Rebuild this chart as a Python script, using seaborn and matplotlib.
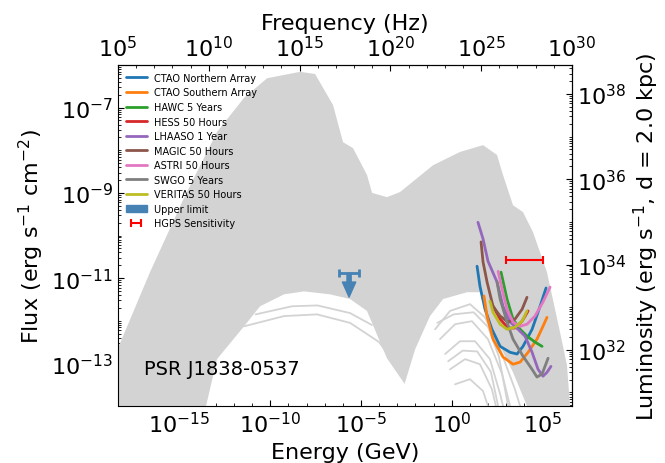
import numpy as np
import matplotlib
matplotlib.use("Agg")
import matplotlib.pyplot as plt
import matplotlib.patches as mpatches
from matplotlib import ticker
import seaborn as sns

# everything below is log10(energy / GeV) and log10(flux / erg s^-1 cm^-2)

# envelope of the grey model band
band_top_logE = [-18.38, -16.62, -14.75, -12.93, -11.44, -10.17, -8.36, -7.53, -6.54, -5.99, -5.44,
                 -4.67, -4.39, -3.57, -2.85, -1.03, 0.45, 1.72, 2.49, 2.82, 3.37, 3.92, 4.47, 5.24,
                 5.96, 6.34, 6.51, 6.6]
band_top_logF = [-12.64, -10.86, -9.12, -7.57, -6.77, -6.31, -6.16, -6.21, -6.94, -7.81, -7.95,
                 -8.58, -9.00, -9.10, -8.98, -8.35, -8.04, -7.88, -8.11, -8.58, -9.29, -9.45, -9.92, -10.86,
                 -12.27, -13.04, -14.0, -14.3]
band_bot_logE = [-13.7, -12.93, -11.44, -10.56, -9.24, -8.14, -6.71, -5.60, -4.67, -3.57, -2.6,
                 -2.02, -1.20, -0.48, 0.84, 1.55, 2.10, 2.66, 3.37, 4.14, 4.3]
band_bot_logF = [-14.3, -12.90, -12.13, -11.66, -11.38, -11.31, -11.38, -11.49, -11.77, -12.88, -13.48,
                 -12.67, -11.89, -11.49, -11.33, -11.33, -12.03, -12.60, -13.21, -14.0, -14.3]

# a few loose model curves outside the dense band
loose_logE = [
    [-11.44, -9.24, -7.42, -5.60, -4.0, -3.0],
    [-10.8, -8.8, -7.4, -5.6, -4.4],
    [-0.92, -0.10, 1.00, 1.83, 2.66, 3.48, 3.76],
    [-0.65, 0.18, 1.11, 1.99, 2.77, 3.21],
    [-0.80, 0.10, 1.20, 2.00, 2.60, 3.10],
    [-0.37, 0.45, 1.28, 2.10, 2.66, 2.82],
    [-0.20, 0.60, 1.40, 2.15, 2.55],
    [-0.10, 0.73, 1.55, 2.21, 2.43],
    [0.18, 1.00, 1.72, 1.99],
]
loose_logF = [
    [-12.13, -11.89, -11.85, -12.05, -12.5, -13.1],
    [-11.85, -11.66, -11.64, -11.82, -12.1],
    [-12.20, -11.77, -11.61, -11.92, -12.67, -13.61, -14.0],
    [-12.43, -12.08, -12.01, -12.43, -13.25, -14.0],
    [-12.05, -11.85, -11.80, -12.15, -12.85, -14.0],
    [-12.78, -12.48, -12.48, -12.90, -13.72, -14.0],
    [-12.95, -12.70, -12.72, -13.20, -14.0],
    [-13.14, -12.90, -13.02, -13.61, -14.0],
    [-13.49, -13.37, -13.65, -14.0],
]

# instrument sensitivity curves
instruments = ["CTAO Northern Array", "CTAO Southern Array", "HAWC 5 Years", "HESS 50 Hours",
               "LHAASO 1 Year", "MAGIC 50 Hours", "ASTRI 50 Hours", "SWGO 5 Years", "VERITAS 50 Hours"]
sens_logE = [
    [1.39, 1.55, 1.83, 2.21, 2.66, 3.21, 3.59, 3.92, 4.42, 4.86, 5.19],
    [1.77, 1.94, 2.27, 2.82, 3.37, 3.76, 4.20, 4.69, 5.02, 5.24],
    [2.71, 3.04, 3.37, 3.76, 4.14, 4.58, 4.97],
    [2.21, 2.66, 3.10, 3.48, 3.87, 4.20],
    [1.44, 1.72, 1.99, 2.49, 2.82, 3.21, 3.65, 4.03, 4.42, 4.75, 5.02, 5.24, 5.46],
    [1.61, 1.72, 1.94, 2.27, 2.66, 3.10, 3.48, 3.87, 4.14],
    [2.55, 2.77, 3.04, 3.37, 3.76, 4.14, 4.58, 5.02, 5.41],
    [2.49, 2.66, 3.04, 3.37, 3.92, 4.42, 4.69, 4.97, 5.30],
    [2.10, 2.27, 2.66, 3.04, 3.48, 3.87, 4.14],
]
sens_logF = [
    [-10.72, -11.19, -11.73, -12.20, -12.60, -12.74, -12.78, -12.60, -12.20, -11.66, -11.23],
    [-11.42, -11.89, -12.43, -12.85, -13.02, -12.97, -12.74, -12.43, -12.13, -11.92],
    [-10.86, -11.49, -11.96, -12.20, -12.36, -12.50, -12.60],
    [-11.61, -11.96, -12.17, -12.17, -12.01, -11.77],
    [-9.69, -10.08, -10.60, -11.09, -11.66, -12.03, -12.20, -12.36, -12.74, -13.14, -13.30, -13.21, -13.07],
    [-10.15, -10.62, -11.09, -11.66, -11.89, -12.03, -11.96, -11.73, -11.45],
    [-10.84, -11.26, -11.73, -12.03, -12.13, -12.08, -11.89, -11.56, -11.21],
    [-11.09, -11.49, -12.03, -12.43, -12.83, -13.14, -13.32, -13.25, -12.88],
    [-11.54, -11.80, -12.08, -12.20, -12.15, -12.01, -11.77],
]
sens_colors = ["tab:blue", "tab:orange", "tab:green", "tab:red", "tab:purple",
               "tab:brown", "tab:pink", "tab:gray", "tab:olive"]

# upper limit point (GeV, erg/s/cm2)
ul_energy = 2.2e-6
ul_emin, ul_emax = 6.2e-7, 7.8e-6
ul_flux = 1.3e-11
ul_tip_flux = 3.6e-12

# HGPS sensitivity
hgps_energy = 1e4
hgps_emin, hgps_emax = 1e3, 1e5
hgps_flux = 2.6e-11

GEV_TO_HZ = 2.418e23
DIST_CM = 2.0 * 3.0857e21
AREA = 4 * np.pi * DIST_CM ** 2

sns.set_style("ticks", {"xtick.direction": "in", "ytick.direction": "in",
                        "axes.edgecolor": "black", "xtick.color": "black", "ytick.color": "black",
                        "text.color": "black", "axes.labelcolor": "black"})
plt.rcParams["font.family"] = ["DejaVu Sans"]

fig = plt.figure(figsize=(6.65, 4.64), dpi=100)
ax = fig.add_axes([0.1774, 0.1228, 0.6827, 0.7349])
ax.set_xscale("log")
ax.set_yscale("log")

# grey band
poly_logE = band_top_logE + band_bot_logE[::-1] + [-18.6, -18.6]
poly_logF = band_top_logF + band_bot_logF[::-1] + [-14.3, -12.9]
ax.fill(np.power(10.0, poly_logE), np.power(10.0, poly_logF), color="lightgrey", lw=0, zorder=1)
for le, lf in zip(loose_logE, loose_logF):
    ax.plot(np.power(10.0, le), np.power(10.0, lf), color="lightgrey", lw=1.3, zorder=1)

for name, col, le, lf in zip(instruments, sens_colors, sens_logE, sens_logF):
    sns.lineplot(x=np.power(10.0, le), y=np.power(10.0, lf), color=col, lw=2,
                 label=name, ax=ax, zorder=3)

ax.errorbar([ul_energy], [ul_flux], xerr=[[ul_energy - ul_emin], [ul_emax - ul_energy]],
            fmt="none", ecolor="steelblue", elinewidth=2, capsize=3, capthick=2, zorder=4)
ax.annotate("", xy=(ul_energy, ul_tip_flux), xytext=(ul_energy, ul_flux),
            arrowprops=dict(arrowstyle="simple,head_length=0.9,head_width=0.8,tail_width=0.25",
                            mutation_scale=12, color="steelblue", shrinkA=0, shrinkB=0),
            zorder=4)

ax.errorbar([hgps_energy], [hgps_flux],
            xerr=[[hgps_energy - hgps_emin], [hgps_emax - hgps_energy]],
            fmt="none", ecolor="red", elinewidth=1.5, capsize=3, capthick=1.5,
            label="HGPS Sensitivity", zorder=4)

ax.text(0.058, 0.11, "PSR J1838-0537", transform=ax.transAxes, fontsize=14, va="center")

# axes, ticks
ax.set_xticks([1e-15, 1e-10, 1e-5, 1e0, 1e5])
ax.xaxis.set_minor_locator(ticker.LogLocator(base=10, subs=(1.0,), numticks=100))
ax.xaxis.set_minor_formatter(ticker.NullFormatter())
ax.set_yticks([1e-13, 1e-11, 1e-9, 1e-7])
ax.yaxis.set_minor_locator(ticker.LogLocator(base=10, subs=np.arange(1, 10), numticks=100))
ax.yaxis.set_minor_formatter(ticker.NullFormatter())
ax.set_xlim(1e5 / GEV_TO_HZ, 1e30 / GEV_TO_HZ)
ax.set_ylim(1e-14, 1e-6)
ax.tick_params(which="both", direction="in", labelsize=16, top=False, right=False)
ax.tick_params(which="major", length=4)
ax.tick_params(which="minor", length=2.5)
ax.set_xlabel("Energy (GeV)", fontsize=16)
ax.set_ylabel("Flux (erg s$^{-1}$ cm$^{-2}$)", fontsize=16)

top = ax.secondary_xaxis("top", functions=(lambda e: e * GEV_TO_HZ, lambda nu: nu / GEV_TO_HZ))
top.set_xticks([1e5, 1e10, 1e15, 1e20, 1e25, 1e30])
top.xaxis.set_minor_locator(ticker.LogLocator(base=10, subs=(1.0,), numticks=100))
top.xaxis.set_minor_formatter(ticker.NullFormatter())
top.tick_params(which="both", direction="in", labelsize=16)
top.tick_params(which="major", length=4)
top.tick_params(which="minor", length=2.5)
top.set_xlabel("Frequency (Hz)", fontsize=16)

right = ax.secondary_yaxis("right", functions=(lambda f: f * AREA, lambda L: L / AREA))
right.set_yticks([1e32, 1e34, 1e36, 1e38])
right.yaxis.set_minor_locator(ticker.LogLocator(base=10, subs=np.arange(1, 10), numticks=100))
right.yaxis.set_minor_formatter(ticker.NullFormatter())
right.tick_params(which="both", direction="in", labelsize=16)
right.tick_params(which="major", length=4)
right.tick_params(which="minor", length=2.5)
right.set_ylabel("Luminosity (erg s$^{-1}$, d = 2.0 kpc)", fontsize=16)

handles, labels = ax.get_legend_handles_labels()
ul_patch = mpatches.Patch(color="steelblue", label="Upper limit")
handles = handles[:-1] + [ul_patch] + handles[-1:]
labels = labels[:-1] + ["Upper limit"] + labels[-1:]
ax.legend(handles, labels, loc="upper left", fontsize=7, frameon=False,
          handlelength=2.15, labelspacing=0.47, borderaxespad=0.4)

fig.savefig("out.png", dpi=100)
